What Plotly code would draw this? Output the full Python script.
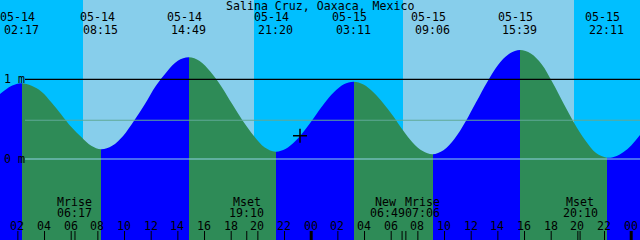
import plotly.graph_objects as go

TITLE = "Salina Cruz, Oaxaca, Mexico"

# High / low tide events (hours since 05-14 00:00, metres)
EXT_DATE = ["05-14", "05-14", "05-14", "05-14", "05-15", "05-15", "05-15", "05-15"]
EXT_TIME = ["02:17", "08:15", "14:49", "21:20", "03:11", "09:06", "15:39", "22:11"]
EXT_HOUR = [2.283, 8.25, 14.817, 21.333, 27.183, 33.1, 39.65, 46.183]
EXT_HEIGHT = [0.95, 0.122, 1.276, 0.092, 0.97, 0.059, 1.368, 0.016]

# Tide heights (hours, metres)
SAMPLE_HOUR = [0.66, 1.47, 1.9,
               3.029, 3.775, 4.521, 5.267, 6.012, 6.758, 7.504,
               9.071, 9.892, 10.713, 11.533, 12.354, 13.175, 13.996,
               15.632, 16.446, 17.261, 18.075, 18.89, 19.704, 20.519,
               22.064, 22.796, 23.527, 24.258, 24.99, 25.72, 26.452,
               27.923, 28.662, 29.402, 30.142, 30.881, 31.62, 32.36,
               33.919, 34.738, 35.556, 36.375, 37.194, 38.012, 38.831,
               40.467, 41.283, 42.1, 42.917, 43.733, 44.55, 45.366,
               46.8, 47.4, 48.0, 48.66]
SAMPLE_HEIGHT = [0.816, 0.912, 0.94,
                 0.918, 0.845, 0.71, 0.555, 0.40, 0.275, 0.165,
                 0.166, 0.29, 0.479, 0.69, 0.919, 1.095, 1.232,
                 1.231, 1.095, 0.91, 0.69, 0.475, 0.29, 0.145,
                 0.125, 0.222, 0.363, 0.531, 0.699, 0.84, 0.937,
                 0.935, 0.837, 0.70, 0.54, 0.36, 0.205, 0.10,
                 0.109, 0.25, 0.463, 0.714, 0.964, 1.18, 1.318,
                 1.325, 1.19, 0.96, 0.70, 0.45, 0.235, 0.075,
                 0.03, 0.085, 0.17, 0.30]

SUNRISE_HOUR = [6.885, 30.885]
SUNSET_HOUR = [19.71, 43.71]

MOON_EVENT = ["Mrise", "Mset", "New", "Mrise", "Mset"]
MOON_TIME = ["06:17", "19:10", "06:49", "07:06", "20:10"]
MOON_HOUR = [6.283, 19.167, 30.817, 31.1, 44.167]

HOUR_TICKS = [2, 4, 6, 8, 10, 12, 14, 16, 18, 20, 22, 24,
              26, 28, 30, 32, 34, 36, 38, 40, 42, 44, 46, 48]
HOUR_LABELS = ["02", "04", "06", "08", "10", "12", "14", "16", "18", "20", "22", "00",
               "02", "04", "06", "08", "10", "12", "14", "16", "18", "20", "22", "00"]
MIDNIGHT_HOURS = [24, 48]

LEVELS = [1.0, 0.486, 0.0]
LEVEL_LABELS = ["1 m", "", "0 m"]

NOW_HOUR = [23.16]
NOW_HEIGHT = [0.292]

X_RANGE = [0.66, 48.66]
Y_RANGE = [-1.0163, 1.995]

NIGHT = "#00BFFF"
DAY = "#87CEEB"
FLOOD = "#0000FF"
EBB = "#2E8B57"
LEVEL_COLORS = ["#000000", "#5FA896", "#8FD3E8"]
FONT = dict(family="DejaVu Sans Mono", size=11.6, color="black")

# merge samples and events into one curve
pts = sorted(list(zip(SAMPLE_HOUR, SAMPLE_HEIGHT)) + list(zip(EXT_HOUR, EXT_HEIGHT)))
hrs = [p[0] for p in pts]
hts = [p[1] for p in pts]

# flood / ebb colour stops along the time axis
span = X_RANGE[1] - X_RANGE[0]
bounds = [X_RANGE[0]] + EXT_HOUR + [X_RANGE[1]]
bheights = [hts[0]] + EXT_HEIGHT + [hts[-1]]
cs = []
for i in range(len(bounds) - 1):
    col = FLOOD if bheights[i + 1] > bheights[i] else EBB
    f0 = (bounds[i] - X_RANGE[0]) / span
    f1 = (bounds[i + 1] - X_RANGE[0]) / span
    cs.append([max(0.0, min(1.0, f0)), col])
    cs.append([max(0.0, min(1.0, f1)), col])

fig = go.Figure()
base_y = Y_RANGE[0] - 0.2
fig.add_trace(go.Scatter(x=[hrs[0], hrs[-1]], y=[base_y, base_y], mode="lines",
                         line=dict(width=0), hoverinfo="skip", showlegend=False))
fig.add_trace(go.Scatter(x=hrs, y=hts, mode="lines", fill="tonexty",
                         fillgradient=dict(type="horizontal", colorscale=cs,
                                           start=X_RANGE[0], stop=X_RANGE[1]),
                         line=dict(width=0, shape="spline", smoothing=1.0),
                         hoverinfo="skip", showlegend=False))

fig.add_trace(go.Scatter(x=NOW_HOUR, y=NOW_HEIGHT, mode="markers",
                         marker=dict(symbol="cross-thin", size=10,
                                     line=dict(width=1.5, color="black")),
                         hoverinfo="skip", showlegend=False))

shapes = []
for r, s in zip(SUNRISE_HOUR, SUNSET_HOUR):
    shapes.append(dict(type="rect", xref="x", yref="paper", x0=r, x1=s, y0=0, y1=1,
                       fillcolor=DAY, line=dict(width=0), layer="below"))
for lv, c in zip(LEVELS, LEVEL_COLORS):
    shapes.append(dict(type="line", xref="paper", yref="y", x0=25 / 640, x1=1, y0=lv, y1=lv,
                       line=dict(color=c, width=1.2), layer="above"))
for h in HOUR_TICKS + MOON_HOUR:
    w = 3 if h in MIDNIGHT_HOURS else 1
    shapes.append(dict(type="line", xref="x", yref="paper", x0=h, x1=h, y0=0, y1=9 / 240,
                       line=dict(color="black", width=w), layer="above"))

ann = []
ann.append(dict(text=TITLE, xref="paper", yref="paper", x=0.5, y=1 - 6 / 240,
                xanchor="center", yanchor="middle", showarrow=False, font=FONT))
for d, t, h in zip(EXT_DATE, EXT_TIME, EXT_HOUR):
    ann.append(dict(text=d, xref="x", yref="paper", x=h, y=1 - 17.5 / 240, xshift=-4,
                    xanchor="center", yanchor="middle", showarrow=False, font=FONT))
    ann.append(dict(text=t, xref="x", yref="paper", x=h, y=1 - 29.5 / 240, xshift=-0.5,
                    xanchor="center", yanchor="middle", showarrow=False, font=FONT))
moon_shift = [0, 0, -17, 17, 0]
for e, t, h, sh in zip(MOON_EVENT, MOON_TIME, MOON_HOUR, moon_shift):
    ann.append(dict(text=e, xref="x", yref="paper", x=h, y=1 - 202 / 240, xshift=sh,
                    xanchor="center", yanchor="middle", showarrow=False, font=FONT))
    ann.append(dict(text=t, xref="x", yref="paper", x=h, y=1 - 213 / 240,
                    xshift=sh + (2 if e == "New" else 0),
                    xanchor="center", yanchor="middle", showarrow=False, font=FONT))
for h, lab in zip(HOUR_TICKS, HOUR_LABELS):
    ann.append(dict(text=lab, xref="x", yref="paper", x=h, y=1 - 226 / 240, xshift=-0.5,
                    xanchor="center", yanchor="middle", showarrow=False, font=FONT))
for lv, lab in zip(LEVELS, LEVEL_LABELS):
    if lab:
        ann.append(dict(text=lab, xref="paper", yref="y", x=2 / 640, y=lv,
                        xanchor="left", yanchor="middle", showarrow=False, font=FONT))

fig.update_layout(
    width=640, height=240, margin=dict(l=0, r=0, t=0, b=0),
    paper_bgcolor=NIGHT, plot_bgcolor=NIGHT,
    xaxis=dict(range=X_RANGE, visible=False, fixedrange=True),
    yaxis=dict(range=Y_RANGE, visible=False, fixedrange=True),
    shapes=shapes, annotations=ann, showlegend=False,
)
fig.write_html("out.html", config={"displayModeBar": False})
